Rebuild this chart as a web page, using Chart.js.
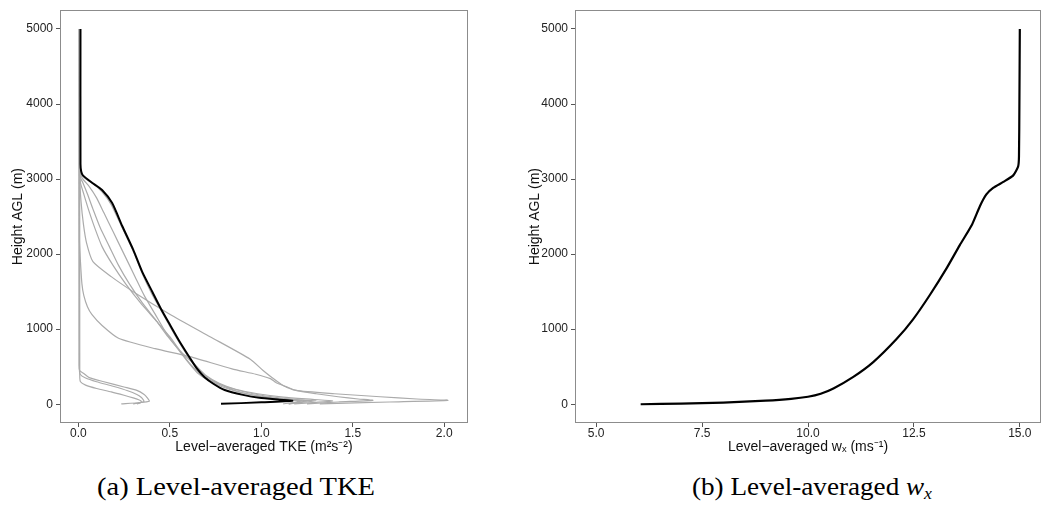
<!DOCTYPE html>
<html><head><meta charset="utf-8">
<script src="https://cdn.jsdelivr.net/npm/chart.js@4/dist/chart.umd.min.js"></script>
<style>
html,body{margin:0;padding:0;background:#fff;width:1064px;height:512px;overflow:hidden;position:relative}
#c1{position:absolute;left:0;top:0}
#c2{position:absolute;left:520px;top:0}
.cap{position:absolute;font-family:"Liberation Serif",serif;font-size:26px;line-height:30px;color:#000;white-space:nowrap;transform-origin:left center;top:472px}
.cap i{font-style:italic}
.cap sub{font-size:17px;vertical-align:-4px}
</style></head><body>
<canvas id="c1" width="520" height="470" style="width:520px;height:470px"></canvas>
<canvas id="c2" width="544" height="470" style="width:544px;height:470px"></canvas>
<div class="cap" id="capA">(a) Level-averaged TKE</div>
<div class="cap" id="capB">(b) Level-averaged <i>w<sub>x</sub></i></div>
<script>
// ---------- Panel (a): level-averaged TKE profiles (m^2 s^-2) vs height AGL (m) ----------
// final (black) profile
const tkeFinal = [0.012,0.012,0.016,0.025,0.07,0.13,0.185,0.24,0.30,0.35,0.405,0.45,0.50,0.55,0.61,0.65,0.69,0.74,0.80,0.90,0.99,1.10,1.17,1.00,0.78];
const hFinal   = [5000,3200,3100,3050,2960,2855,2680,2375,2060,1760,1496,1280,1063,850,617,470,360,270,190,125,85,60,45,25,5];
// intermediate (grey) profiles
const tkeF4 = [0.010,0.010,0.014,0.03,0.08,0.13,0.18,0.24,0.30,0.35,0.40,0.45,0.50,0.55,0.61,0.66,0.71,0.78,0.86,0.96,1.06,1.16,1.22,1.18,1.12];
const hF4   = [5000,3180,3080,3020,2940,2830,2660,2350,2040,1740,1480,1260,1040,830,600,460,350,260,180,120,80,55,45,25,5];
const tkeF3 = [0.010,0.010,0.013,0.025,0.06,0.10,0.14,0.19,0.25,0.31,0.36,0.42,0.48,0.54,0.60,0.65,0.71,0.79,0.88,0.99,1.10,1.22,1.30,1.22,1.15];
const hF3   = [5000,3150,3060,3000,2900,2750,2550,2300,2000,1700,1450,1200,950,750,560,420,320,230,160,110,75,55,45,25,5];
const tkeF2 = [0.008,0.008,0.012,0.025,0.05,0.08,0.12,0.17,0.22,0.28,0.35,0.43,0.49,0.56,0.64,0.70,0.77,0.86,0.98,1.12,1.28,1.39,1.30,1.18];
const hF2   = [5000,3100,3020,2950,2800,2600,2350,2100,1850,1600,1350,1100,900,700,520,380,280,200,140,95,65,45,25,5];
const tkeF1 = [0.008,0.008,0.012,0.03,0.055,0.09,0.13,0.19,0.26,0.34,0.43,0.50,0.56,0.61,0.66,0.72,0.80,0.90,1.00,1.12,1.22,1.25,1.20,1.15];
const hF1   = [5000,3050,2950,2800,2600,2350,2100,1850,1600,1350,1100,900,700,540,420,320,240,170,120,80,55,45,25,5];
const tkeE = [0.006,0.008,0.015,0.028,0.045,0.08,0.18,0.30,0.50,0.72,0.94,1.01,1.06,1.12,1.19,1.40,1.65,1.85,2.02,1.70,1.32];
const hE   = [5000,3000,2700,2400,2150,1900,1700,1500,1200,900,600,450,354,250,184,140,100,70,52,30,5];
const tkeD = [0.005,0.006,0.012,0.02,0.03,0.05,0.075,0.13,0.22,0.42,0.60,0.84,0.97,1.05,1.08,1.12,1.19,1.30,1.42,1.53,1.61,1.42,1.25];
const hD   = [5000,2200,1890,1600,1450,1300,1194,1050,880,740,640,472,400,341,290,250,184,140,100,70,52,30,5];
const tkeG1 = [0.004,0.004,0.008,0.03,0.06,0.14,0.25,0.32,0.36,0.375,0.388,0.33,0.235];
const hG1   = [5000,520,446,410,354,300,230,184,130,92,40,20,5];
const tkeG2 = [0.006,0.006,0.010,0.04,0.10,0.19,0.27,0.32,0.345,0.355,0.36,0.33,0.30];
const hG2   = [5000,480,400,350,300,240,180,130,90,60,35,18,5];
const tkeG3 = [0.008,0.008,0.012,0.04,0.10,0.18,0.25,0.30,0.33,0.345,0.34,0.32];
const hG3   = [5000,380,300,255,210,165,120,85,60,40,20,5];
const tkeTicks = [0, 0.5, 1.0, 1.5, 2.0];
const heightTicks = [0, 1000, 2000, 3000, 4000, 5000];

// ---------- Panel (b): level-averaged w_x (m s^-1) vs height ----------
const wx = [6.05,7.0,8.0,9.0,9.6,10.0,10.3,10.6,11.07,11.54,12.09,12.48,12.88,13.27,13.58,13.86,14.06,14.21,14.37,14.61,14.84,14.96,14.98,14.99,15.0];
const hWx = [0,9,22,48,72,100,140,210,364,561,868,1131,1459,1810,2117,2380,2642,2796,2883,2962,3046,3168,3300,4000,5000];
const wxTicks = [5.0, 7.5, 10.0, 12.5, 15.0];

function pts(xs, hs){ return xs.map((x,i)=>({x:x, y:hs[i]})); }

const GREY = '#ababab';
const tickFont = {family:'"Liberation Sans", Arial, sans-serif', size:12};
const titleFont = {family:'"Liberation Sans", Arial, sans-serif', size:14};

const boxPlugin = {
  id:'box',
  afterDraw(chart){
    const {ctx, chartArea:a} = chart;
    ctx.save();
    ctx.strokeStyle = '#8c8c8c';
    ctx.lineWidth = 1;
    ctx.strokeRect(Math.round(a.left)+0.5, Math.round(a.top)+0.5, Math.round(a.right-a.left)-1, Math.round(a.bottom-a.top)-1);
    ctx.restore();
  }
};

function line(data, color, width){
  return {data:data, showLine:true, borderColor:color, borderWidth:width, pointRadius:0, fill:false, tension:0.2};
}

function axisX(min, max, ticksArr, digits, title, height, titlePad){
  return {
    type:'linear', min:min, max:max,
    afterBuildTicks: s => { s.ticks = ticksArr.map(v=>({value:v})); },
    afterFit: s => { s.height = height; },
    ticks:{callback:v=>Number(v).toFixed(digits), font:tickFont, color:'#222', padding:-1, maxRotation:0, autoSkip:false},
    grid:{drawOnChartArea:false, drawTicks:true, tickLength:4, tickColor:'#555', tickWidth:1},
    border:{display:false},
    title:{display:true, text:title, font:titleFont, color:'#111', padding:{top:0, bottom:titlePad}}
  };
}
function axisY(width, titlePad){
  return {
    type:'linear', min:-250, max:5250,
    afterBuildTicks: s => { s.ticks = heightTicks.map(v=>({value:v})); },
    afterFit: s => { s.width = width; },
    ticks:{callback:v=>String(v), font:tickFont, color:'#222', padding:3, autoSkip:false},
    grid:{drawOnChartArea:false, drawTicks:true, tickLength:4, tickColor:'#555', tickWidth:1},
    border:{display:false},
    title:{display:true, text:'Height AGL (m)', font:titleFont, color:'#111', padding:{top:titlePad, bottom:0}}
  };
}

new Chart(document.getElementById('c1'), {
  type:'scatter',
  data:{datasets:[
    line(pts(tkeFinal,hFinal), '#000', 2),
    line(pts(tkeF4,hF4), GREY, 1.2),
    line(pts(tkeF3,hF3), GREY, 1.2),
    line(pts(tkeF2,hF2), GREY, 1.2),
    line(pts(tkeF1,hF1), GREY, 1.2),
    line(pts(tkeE,hE), GREY, 1.2),
    line(pts(tkeD,hD), GREY, 1.2),
    line(pts(tkeG1,hG1), GREY, 1.2),
    line(pts(tkeG2,hG2), GREY, 1.2),
    line(pts(tkeG3,hG3), GREY, 1.2)
  ]},
  options:{
    responsive:false, animation:false,
    layout:{padding:{left:0, right:52, top:4, bottom:0}},
    plugins:{legend:{display:false}, tooltip:{enabled:false}},
    scales:{
      x: axisX(-0.1, 2.13, tkeTicks, 1, 'Level\u2212averaged TKE (m\u00B2s\u207B\u00B2)', 47, 14),
      y: axisY(60, 9.6)
    }
  },
  plugins:[boxPlugin]
});

new Chart(document.getElementById('c2'), {
  type:'scatter',
  data:{datasets:[ line(pts(wx,hWx), '#000', 2.2) ]},
  options:{
    responsive:false, animation:false,
    layout:{padding:{left:0, right:23, top:4, bottom:0}},
    plugins:{legend:{display:false}, tooltip:{enabled:false}},
    scales:{
      x: axisX(4.5, 15.5, wxTicks, 1, 'Level\u2212averaged w\u2093 (ms\u207B\u00B9)', 47, 14),
      y: axisY(55, 6.6)
    }
  },
  plugins:[boxPlugin]
});

// fit captions to the reference widths
function fitCap(id, left, width){
  const el = document.getElementById(id);
  el.style.left = left + 'px';
  const w = el.getBoundingClientRect().width;
  el.style.transform = 'scaleX(' + (width / w) + ')';
}
fitCap('capA', 97, 278);
fitCap('capB', 692, 240);
</script>
</body></html>
